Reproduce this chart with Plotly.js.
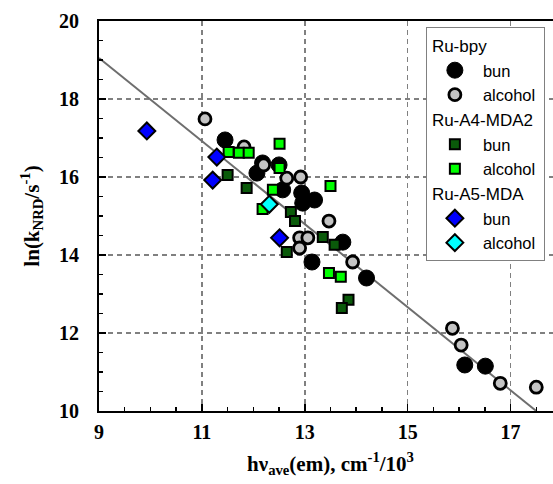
<!DOCTYPE html>
<html><head><meta charset="utf-8">
<script src="https://cdn.plot.ly/plotly-3.0.1.min.js"></script>
<style>html,body{margin:0;padding:0;overflow:hidden;background:#fff}</style>
</head><body><div id="chart" style="width:565px;height:484px"></div>
<script>
// Ru-bpy
const bpyBunX = [11.45, 12.18, 12.07, 12.50, 12.57, 12.94, 12.96, 13.19, 13.14, 13.74, 14.20, 16.11, 16.51];
const bpyBunY = [16.95, 16.36, 16.10, 16.31, 15.67, 15.59, 15.33, 15.41, 13.82, 14.33, 13.41, 11.18, 11.15];
const bpyAlcX = [11.06, 11.82, 12.20, 12.65, 12.92, 13.47, 12.90, 13.06, 12.90, 13.93, 15.87, 16.04, 16.80, 17.50];
const bpyAlcY = [17.49, 16.77, 16.31, 15.97, 16.00, 14.87, 14.44, 14.44, 14.18, 13.82, 12.12, 11.69, 10.71, 10.61];
// Ru-A4-MDA2
const a4BunX = [11.50, 11.87, 12.73, 12.81, 12.65, 13.35, 13.58, 13.85, 13.72];
const a4BunY = [16.05, 15.72, 15.10, 14.87, 14.08, 14.46, 14.26, 12.85, 12.64];
const a4AlcX = [11.52, 11.72, 11.91, 12.51, 12.51, 12.38, 13.50, 12.18, 13.47, 13.70];
const a4AlcY = [16.64, 16.62, 16.62, 16.85, 16.23, 15.67, 15.77, 15.18, 13.54, 13.44];
// Ru-A5-MDA
const a5BunX = [9.93, 11.29, 11.21, 12.51];
const a5BunY = [17.18, 16.51, 15.92, 14.44];
const a5AlcX = [12.31];
const a5AlcY = [15.30];
// fitted line
const fitX = [9, 17.5];
const fitY = [19.05, 10.0];

const traces = [
  {x: fitX, y: fitY, mode: 'lines', line: {color: '#6e6e6e', width: 2}, showlegend: false, hoverinfo: 'skip'},
  {x: bpyBunX, y: bpyBunY, mode: 'markers', name: 'bun', legendgroup: 'bpy', legendgrouptitle: {text: 'Ru-bpy'},
   marker: {symbol: 'circle', size: 16, color: '#000000', line: {color: '#000000', width: 1}}},
  {x: bpyAlcX, y: bpyAlcY, mode: 'markers', name: 'alcohol', legendgroup: 'bpy',
   marker: {symbol: 'circle', size: 12, color: '#c4c4c4', line: {color: '#000000', width: 2.8}}},
  {x: a4BunX, y: a4BunY, mode: 'markers', name: 'bun', legendgroup: 'a4', legendgrouptitle: {text: 'Ru-A4-MDA2'},
   marker: {symbol: 'square', size: 10, color: '#0a5a0a', line: {color: '#000000', width: 2}}},
  {x: a4AlcX, y: a4AlcY, mode: 'markers', name: 'alcohol', legendgroup: 'a4',
   marker: {symbol: 'square', size: 10, color: '#00ff00', line: {color: '#000000', width: 2}}},
  {x: a5BunX, y: a5BunY, mode: 'markers', name: 'bun', legendgroup: 'a5', legendgrouptitle: {text: 'Ru-A5-MDA'},
   marker: {symbol: 'diamond', size: 13, color: '#0000ff', line: {color: '#000000', width: 2}}},
  {x: a5AlcX, y: a5AlcY, mode: 'markers', name: 'alcohol', legendgroup: 'a5',
   marker: {symbol: 'diamond', size: 13, color: '#00ffff', line: {color: '#000000', width: 2}}}
];

const axFont = {family: 'Liberation Serif, Times New Roman, serif', size: 20, color: '#000', weight: 'bold'};
const titleFont = {family: 'Liberation Serif, Times New Roman, serif', size: 21, color: '#000', weight: 'bold'};
const gridCommon = {showgrid: true, gridcolor: '#808080', gridwidth: 1.5, griddash: '5px,4px',
  showline: true, mirror: true, linecolor: '#000', linewidth: 2, zeroline: false,
  ticks: 'inside', ticklen: 7, tickwidth: 1.5, tickcolor: '#000', tickfont: axFont,
  minor: {dtick: 0.5, ticks: 'inside', ticklen: 4, tickwidth: 1.5, tickcolor: '#000', showgrid: false}};

const layout = {
  width: 565, height: 484,
  margin: {l: 99, r: 3, t: 21, b: 73},
  paper_bgcolor: '#fff', plot_bgcolor: '#fff',
  showlegend: true,
  xaxis: Object.assign({}, gridCommon, {range: [9, 18], tick0: 9, dtick: 2, ticklabelstandoff: 2,
    title: {text: 'hν<sub>ave</sub>(em), cm<sup>-1</sup>/10<sup>3</sup>', font: titleFont, standoff: 14}}),
  yaxis: Object.assign({}, gridCommon, {range: [10, 20], tick0: 10, dtick: 2, ticklabelstandoff: 14,
    title: {text: 'ln(k<sub>NRD</sub>/s<sup>-1</sup>)', font: titleFont, standoff: 14}}),
  legend: {x: 0.706, y: 0.985, xanchor: 'left', yanchor: 'top', bgcolor: '#fff',
    bordercolor: '#808080', borderwidth: 1, tracegroupgap: 0, traceorder: 'grouped', itemwidth: 46,
    font: {family: 'Liberation Sans, Arial, sans-serif', size: 16.5, color: '#000'},
    grouptitlefont: {family: 'Liberation Sans, Arial, sans-serif', size: 17, color: '#000'}}
};

Plotly.newPlot('chart', traces, layout, {displayModeBar: false, staticPlot: true});
</script></body></html>
